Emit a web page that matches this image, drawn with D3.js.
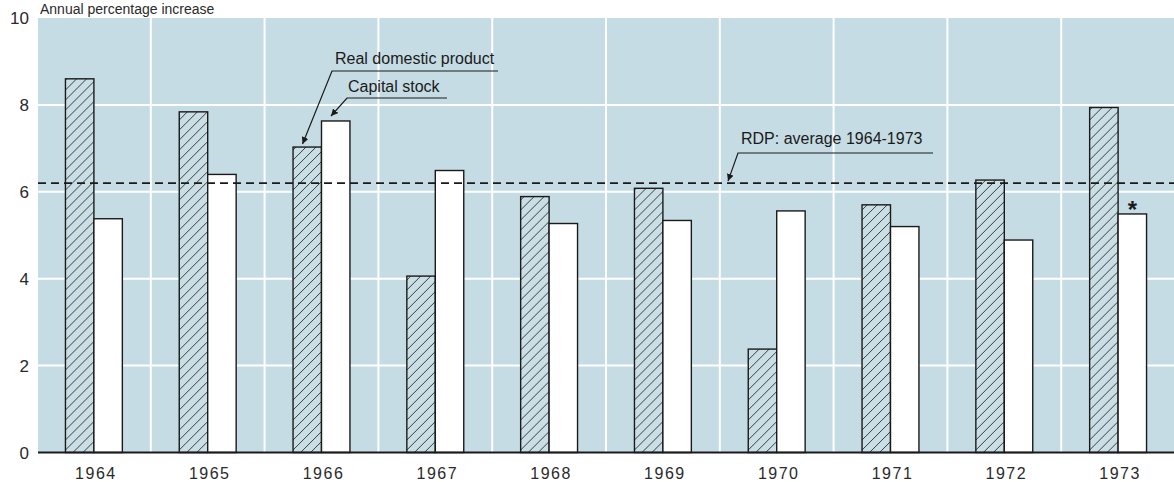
<!DOCTYPE html>
<html>
<head>
<meta charset="utf-8">
<script src="https://cdn.jsdelivr.net/npm/d3@7"></script>
<style>
  body { margin: 0; background: #fff; }
  svg { display: block; font-family: "Liberation Sans", Arial, sans-serif; }
</style>
</head>
<body>
<div id="chart"></div>
<script>
// Data
const years = ['1964', '1965', '1966', '1967', '1968', '1969', '1970', '1971', '1972', '1973'];
const rdp = [8.6, 7.84, 7.03, 4.06, 5.89, 6.08, 2.38, 5.70, 6.27, 7.94];
const capital = [5.38, 6.40, 7.63, 6.49, 5.27, 5.34, 5.56, 5.20, 4.89, 5.49];
const rdpAverage = 6.2;
const yTicks = [0, 2, 4, 6, 8, 10];
const gridValues = [2, 4, 6, 8];

const width = 1174, height = 482;
const plotLeft = 38, plotRight = 1174, plotTop = 18, plotBottom = 452.5;

const svg = d3.select('#chart').append('svg')
  .attr('width', width)
  .attr('height', height);

const x = d3.scaleBand()
  .domain(years)
  .range([37, 1175])
  .paddingInner(0.5)
  .paddingOuter(0.25);

const sub = d3.scaleBand()
  .domain(['rdp', 'capital'])
  .range([0, x.bandwidth()]);

const y = d3.scaleLinear()
  .domain([0, 10])
  .range([plotBottom, plotTop]);

// hatch pattern for the RDP bars
const defs = svg.append('defs');
const pat = defs.append('pattern')
  .attr('id', 'hatch')
  .attr('patternUnits', 'userSpaceOnUse')
  .attr('width', 10)
  .attr('height', 10);
pat.append('rect').attr('width', 10).attr('height', 10).attr('fill', '#c9dee5');
pat.append('path')
  .attr('d', 'M-1,1 l2,-2 M0,10 l10,-10 M9,11 l2,-2')
  .attr('stroke', '#2a2a2a')
  .attr('stroke-width', 0.9);

// panel background
svg.append('rect')
  .attr('x', plotLeft).attr('y', plotTop)
  .attr('width', plotRight - plotLeft).attr('height', plotBottom - plotTop)
  .attr('fill', '#c6dce4');

// white grid
svg.append('g')
  .selectAll('line')
  .data(gridValues)
  .join('line')
  .attr('x1', plotLeft).attr('x2', plotRight)
  .attr('y1', d => y(d)).attr('y2', d => y(d))
  .attr('stroke', '#fff')
  .attr('stroke-width', 2);

svg.append('g')
  .selectAll('line')
  .data(years.slice(1))
  .join('line')
  .attr('x1', d => x(d) - x.step() * x.paddingInner() / 2)
  .attr('x2', d => x(d) - x.step() * x.paddingInner() / 2)
  .attr('y1', plotTop).attr('y2', plotBottom)
  .attr('stroke', '#fff')
  .attr('stroke-width', 2);

// bars
const groups = svg.append('g')
  .selectAll('g')
  .data(years)
  .join('g')
  .attr('transform', d => `translate(${x(d)},0)`);

groups.append('rect')
  .attr('x', sub('rdp'))
  .attr('width', sub.bandwidth())
  .attr('y', (d, i) => y(rdp[i]))
  .attr('height', (d, i) => y(0) - y(rdp[i]))
  .attr('fill', 'url(#hatch)')
  .attr('stroke', '#1a1a1a')
  .attr('stroke-width', 1.4);

groups.append('rect')
  .attr('x', sub('capital'))
  .attr('width', sub.bandwidth())
  .attr('y', (d, i) => y(capital[i]))
  .attr('height', (d, i) => y(0) - y(capital[i]))
  .attr('fill', '#fff')
  .attr('stroke', '#1a1a1a')
  .attr('stroke-width', 1.4);

// asterisk on the last capital stock bar
svg.append('text')
  .attr('x', x('1973') + sub('capital') + sub.bandwidth() / 2)
  .attr('y', y(capital[9]) + 4)
  .attr('text-anchor', 'middle')
  .style('font-size', '24px')
  .style('font-weight', 'bold')
  .attr('fill', '#1a1a1a')
  .text('*');

// average line
svg.append('line')
  .attr('x1', plotLeft).attr('x2', plotRight)
  .attr('y1', y(rdpAverage)).attr('y2', y(rdpAverage))
  .attr('stroke', '#1a1a1a')
  .attr('stroke-width', 1.6)
  .attr('stroke-dasharray', '8,5');

// baseline
svg.append('line')
  .attr('x1', plotLeft).attr('x2', plotRight)
  .attr('y1', y(0)).attr('y2', y(0))
  .attr('stroke', '#1a1a1a')
  .attr('stroke-width', 2);

// y tick labels
svg.append('g')
  .selectAll('text')
  .data(yTicks)
  .join('text')
  .attr('x', 29)
  .attr('y', d => y(d))
  .attr('dy', '0.36em')
  .attr('text-anchor', 'end')
  .style('font-size', '17px')
  .attr('fill', '#2a2a2a')
  .text(d => d);

// year labels
svg.append('g')
  .selectAll('text')
  .data(years)
  .join('text')
  .attr('x', d => x(d) + x.bandwidth() / 2 + 2)
  .attr('y', 479)
  .attr('text-anchor', 'middle')
  .style('font-size', '16px')
  .style('letter-spacing', '1.5px')
  .attr('fill', '#2a2a2a')
  .text(d => d);

// axis title
svg.append('text')
  .attr('x', 40)
  .attr('y', 14)
  .style('font-size', '14px')
  .attr('fill', '#2a2a2a')
  .text('Annual percentage increase');

// annotations with leader arrows
defs.append('marker')
  .attr('id', 'arrow')
  .attr('viewBox', '0 0 10 10')
  .attr('refX', 10).attr('refY', 5)
  .attr('markerWidth', 7).attr('markerHeight', 7)
  .attr('markerUnits', 'userSpaceOnUse')
  .attr('orient', 'auto')
  .append('path')
  .attr('d', 'M0,0 L10,5 L0,10 Z')
  .attr('fill', '#1a1a1a');

function note(label, tx, ty, lineStart, lineEnd, lineY, tipX, tipY) {
  svg.append('text')
    .attr('x', tx).attr('y', ty)
    .style('font-size', '16px')
    .attr('fill', '#1a1a1a')
    .text(label);
  svg.append('path')
    .attr('d', `M${lineEnd},${lineY} L${lineStart},${lineY} L${tipX},${tipY}`)
    .attr('fill', 'none')
    .attr('stroke', '#1a1a1a')
    .attr('stroke-width', 1.2)
    .attr('marker-end', 'url(#arrow)');
}

const rdpTipX = x('1966') + sub('rdp') + sub.bandwidth() / 3;
const capTipX = x('1966') + sub('capital') + sub.bandwidth() / 3;
note('Real domestic product', 335, 64, 332, 498, 71, rdpTipX, y(rdp[2]) - 3);
note('Capital stock', 348, 92, 347, 447, 98, capTipX, y(capital[2]) - 5);
note('RDP: average 1964-1973', 741, 144, 738, 933, 153, 728, y(rdpAverage) - 2);
</script>
</body>
</html>
